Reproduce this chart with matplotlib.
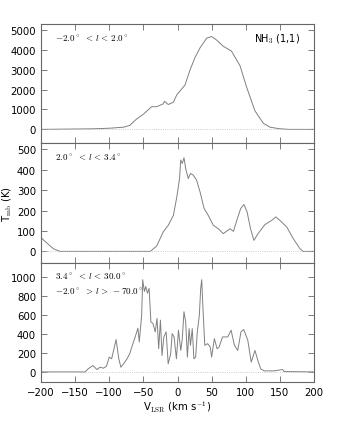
import numpy as np
from matplotlib import pyplot as plt

# NH3 (1,1) spectra
v_top = [-200, -123, -99, -79, -70, -60, -50, -38, -30.5, -21, -19, -13.5, -6, -1, 11, 18,
         25.6, 33, 42.8, 50, 57, 67, 79, 91.6, 101, 113.5, 125.7, 135.5, 150, 164, 200]
t_top = [0, 30, 60, 110, 200, 520, 760, 1140, 1140, 1280, 1410, 1250, 1370, 1740, 2230, 2960,
         3610, 4100, 4590, 4670, 4500, 4180, 3940, 3200, 2150, 930, 310, 110, 30, 0, 0]

v_mid = [-200, -182, -172, -40, -30.5, -21, -13.5, -6, -1, 3, 4.7, 7, 9.5, 12, 15.8, 19, 23,
         28, 33, 39, 45, 52.5, 59.8, 67, 77, 82, 87.6, 92.6, 97.4, 102, 107, 112, 118, 128,
         138, 144, 150, 160, 169.7, 179.5, 184, 200]
t_mid = [67, 13, 0, 0, 26, 95, 128, 177, 267, 357, 448, 431, 459, 406, 357, 382, 374,
         349, 292, 210, 177, 128, 111, 87, 111, 98, 160, 210, 230, 193, 111, 54, 87, 131,
         152, 169, 152, 120, 62, 13, 0, 0]

v_bot = [-200, -135.5, -131, -124, -118, -113.5, -108.6, -104, -100, -96.5, -90, -86, -83,
         -79, -74, -70, -67, -62, -58, -56, -52.5, -51, -48.5, -46.5, -44, -41.6, -39, -36,
         -32.6, -30, -27.6, -25, -22.7, -20, -16.6, -13.7, -10, -7.8, -5, -1.6, 1.4, 4.8, 7,
         9.5, 12, 14.5, 17, 19, 21.6, 24, 26.6, 29, 32, 34, 35.5, 37.5, 40, 44, 48, 50, 54,
         58, 61, 66, 73.6, 78.5, 83.4, 88.3, 93, 97, 103, 108, 113.5, 118.5, 122, 127,
         141.7, 154, 156, 200]
t_bot = [0, 0, 32, 67, 25, 50, 39, 60, 156, 138, 340, 138, 50,
         85, 138, 191, 262, 368, 460, 315, 598, 970, 846, 899, 828, 880, 527, 510,
         421, 563, 244, 545, 173, 368, 421, 85, 191, 403, 368, 138, 439, 226, 350,
         633, 527, 156, 456, 280, 456, 138, 156, 421, 598, 880, 970, 633, 280, 297, 262, 156, 350,
         244, 262, 368, 368, 439, 280, 226, 421, 446, 333, 103, 226, 103, 32, 11,
         11, 25, 4, 0]

labels = [r"$-2.0^\circ\ \,<\, l \,<\, 2.0^\circ$",
          r"$2.0^\circ\ \,<\, l \,<\, 3.4^\circ$",
          "$3.4^\\circ\\ \\,<\\, l \\,<\\, 30.0^\\circ$\n$-2.0^\\circ\\ \\,>\\, l \\,>\\, -70.0^\\circ$"]
ylims = [(-700, 5300), (-55, 530), (-105, 1150)]
yticks = [np.arange(0, 5001, 1000), np.arange(0, 501, 100), np.arange(0, 1001, 200)]

plt.rcParams['mathtext.fontset'] = 'cm'
fig = plt.figure(figsize=(3.42, 4.27), dpi=100)
left, width = 41 / 342, 273 / 342
top_px, h_px = 25, 119.3
axes = []
for i in range(3):
    b = 1 - (top_px + (i + 1) * h_px) / 427
    axes.append(fig.add_axes([left, b, width, h_px / 427]))

data = [(v_top, t_top), (v_mid, t_mid), (v_bot, t_bot)]
for i, ax in enumerate(axes):
    v, t = data[i]
    ax.plot(v, t, color='#808080', lw=0.7)
    ax.axhline(0, color='#bbbbbb', lw=0.6, ls=':')
    ax.set_xlim(-200, 200)
    ax.set_ylim(*ylims[i])
    ax.set_yticks(yticks[i])
    ax.set_xticks(np.arange(-200, 201, 50))
    ax.tick_params(direction='in', top=True, right=True, labelsize=7.3, length=4,
                   color='#666666', width=0.6)
    for s in ax.spines.values():
        s.set_color('#666666')
        s.set_linewidth(0.8)
    ax.text(0.05, 0.93, labels[i], transform=ax.transAxes, fontsize=6.5,
            va='top', ha='left', linespacing=1.6)
    if i < 2:
        ax.tick_params(labelbottom=False)

axes[0].text(0.95, 0.88, r"NH$_3$ (1,1)", transform=axes[0].transAxes, fontsize=7,
             ha='right', va='center')
axes[1].set_ylabel(r"T$_{\rm mb}$ (K)", fontsize=7.3, labelpad=2)
axes[2].set_xlabel(r"V$_{\rm LSR}$ (km s$^{-1}$)", fontsize=7.3, labelpad=1)

fig.savefig("out.png", dpi=100)
